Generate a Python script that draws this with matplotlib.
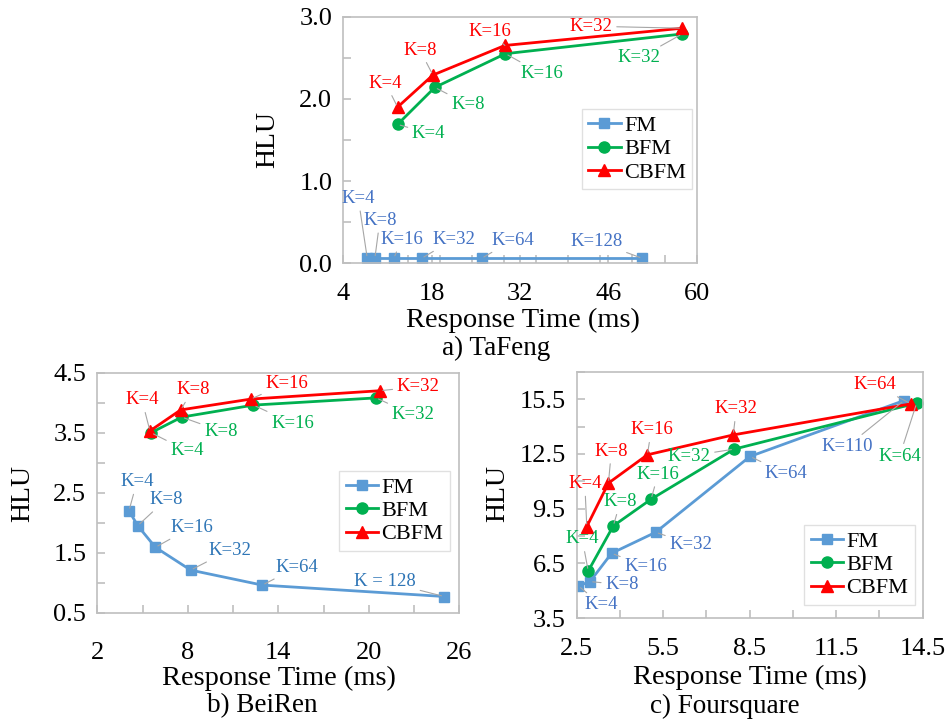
import numpy as np
import matplotlib
matplotlib.use("Agg")
import matplotlib.pyplot as plt

plt.rcParams['font.family'] = ['Liberation Serif', 'DejaVu Serif']

# a) TaFeng
tf_fm_x = [7.8, 9.0, 12.0, 16.4, 25.9, 51.4]
tf_fm_y = [0.06, 0.06, 0.06, 0.06, 0.06, 0.06]
tf_fm_k = ['K=4', 'K=8', 'K=16', 'K=32', 'K=64', 'K=128']
tf_bfm_x = [12.6, 18.5, 29.7, 57.7]
tf_bfm_y = [1.69, 2.14, 2.55, 2.79]
tf_cbfm_x = [12.6, 18.2, 29.6, 57.7]
tf_cbfm_y = [1.90, 2.29, 2.65, 2.86]
tf_bk = ['K=4', 'K=8', 'K=16', 'K=32']

# b) BeiRen
br_fm_x = [4.1, 4.68, 5.85, 8.19, 12.94, 25.0]
br_fm_y = [2.20, 1.95, 1.59, 1.21, 0.96, 0.77]
br_fm_k = ['K=4', 'K=8', 'K=16', 'K=32', 'K=64', 'K = 128']
br_bfm_x = [5.56, 7.60, 12.35, 20.48]
br_bfm_y = [3.50, 3.76, 3.96, 4.08]
br_cbfm_x = [5.49, 7.53, 12.17, 20.75]
br_cbfm_y = [3.53, 3.88, 4.06, 4.20]
br_bk = ['K=4', 'K=8', 'K=16', 'K=32']

# c) Foursquare
fs_fm_x = [2.56, 2.96, 3.71, 5.24, 8.51, 13.85]
fs_fm_y = [5.27, 5.51, 7.06, 8.21, 12.36, 15.42]
fs_fm_k = ['K=4', 'K=8', 'K=16', 'K=32', 'K=64', 'K=110']
fs_bfm_x = [2.90, 3.77, 5.08, 7.96, 14.29]
fs_bfm_y = [6.09, 8.56, 10.02, 12.76, 15.28]
fs_cbfm_x = [2.85, 3.60, 4.95, 7.93, 14.09]
fs_cbfm_y = [8.52, 10.90, 12.45, 13.54, 15.24]
fs_bk = ['K=4', 'K=8', 'K=16', 'K=32', 'K=64']

BLUE = '#5B9BD5'
GREEN = '#00B050'
RED = '#FF0000'
GRID = '#BFBFBF'

W, H = 951, 725
fig = plt.figure(figsize=(W / 100, H / 100), dpi=100)


def add_axes(l, r, t, b):
    return fig.add_axes([l / W, 1 - b / H, (r - l) / W, (b - t) / H])


def style(ax, xlim, xt, xminor, ylim, yt, yminor, xpad):
    ax.set_xlim(*xlim)
    ax.set_ylim(*ylim)
    ax.set_xticks(xt)
    ax.set_xticks(xminor, minor=True)
    ax.set_yticks(yt)
    ax.set_yticks(yminor, minor=True)
    ax.set_yticklabels(['%.1f' % v for v in yt])
    for s in ax.spines.values():
        s.set_color(GRID)
        s.set_linewidth(1.2)
    ax.tick_params(which='both', direction='in', color=GRID, length=6, width=1.2,
                   labelsize=19, pad=8)
    ax.tick_params(axis='x', pad=xpad)


def label(ax, xs, ys, ks, offs, color):
    for x, y, k, (dx, dy) in zip(xs, ys, ks, offs):
        ax.annotate(k, (x, y), xytext=(dx, dy), textcoords='offset pixels',
                    ha='center', va='center', fontsize=13.5, color=color,
                    arrowprops=dict(arrowstyle='-', color='#A6A6A6', lw=0.8,
                                    shrinkA=1, shrinkB=2))


def series(ax, fm, bfm, cbfm):
    ax.plot(*fm, color=BLUE, marker='s', ms=7.5, lw=2, label='FM')
    ax.plot(*bfm, color=GREEN, marker='o', ms=8, lw=2, label='BFM')
    ax.plot(*cbfm, color=RED, marker='^', ms=8.5, lw=2, label='CBFM')


def legend(ax, anchor):
    lg = ax.legend(loc='lower right', bbox_to_anchor=anchor, fontsize=16,
                   frameon=True, fancybox=False, borderaxespad=0,
                   handlelength=1.45, handletextpad=0.15, labelspacing=0.12,
                   borderpad=0.3)
    lg.get_frame().set_edgecolor('#D9D9D9')
    lg.get_frame().set_linewidth(1.0)


# top chart
ax1 = add_axes(343.3, 696.7, 16.7, 263.3)
series(ax1, (tf_fm_x, tf_fm_y), (tf_bfm_x, tf_bfm_y), (tf_cbfm_x, tf_cbfm_y))
style(ax1, (4, 60), [4, 18, 32, 46, 60], np.linspace(4, 60, 12),
      (0, 3), [0, 1, 2, 3], np.arange(0, 3.01, 0.5), 14)
label(ax1, tf_fm_x, tf_fm_y, tf_fm_k,
      [(-9, 60), (5, 38), (8, 19), (32, 19), (31, 18), (-46, 17)], '#4472C4')
label(ax1, tf_bfm_x, tf_bfm_y, tf_bk,
      [(31, -9), (33, -17), (36, -20), (-43, -24)], GREEN)
label(ax1, tf_cbfm_x, tf_cbfm_y, tf_bk,
      [(-12, 24), (-13, 25), (-15, 14), (-91, 2)], RED)
legend(ax1, (0.988, 0.30))

# bottom left
ax2 = add_axes(97.3, 459.3, 372.7, 612.7)
series(ax2, (br_fm_x, br_fm_y), (br_bfm_x, br_bfm_y), (br_cbfm_x, br_cbfm_y))
style(ax2, (2, 26), [2, 8, 14, 20, 26], np.arange(2, 26.01, 3),
      (0.5, 4.5), [0.5, 1.5, 2.5, 3.5, 4.5], np.arange(0.5, 4.51, 0.5), 21)
label(ax2, br_fm_x, br_fm_y, br_fm_k,
      [(8, 29), (28, 26), (36, 20), (39, 20), (35, 18), (-59, 15)], '#2E75B6')
label(ax2, br_bfm_x, br_bfm_y, br_bk,
      [(36, -18), (39, -14), (39, -18), (37, -17)], GREEN)
label(ax2, br_cbfm_x, br_cbfm_y, br_bk,
      [(-8, 31), (12, 20), (36, 16), (38, 4)], RED)
legend(ax2, (0.974, 0.257))

# bottom right
ax3 = add_axes(576.7, 922.7, 371.7, 618.3)
series(ax3, (fs_fm_x, fs_fm_y), (fs_bfm_x, fs_bfm_y), (fs_cbfm_x, fs_cbfm_y))
style(ax3, (2.5, 14.5), [2.5, 5.5, 8.5, 11.5, 14.5], np.arange(2.5, 14.51, 1.5),
      (3.5, 17), [3.5, 6.5, 9.5, 12.5, 15.5], np.arange(3.5, 17.01, 1.5), 14)
label(ax3, fs_fm_x, fs_fm_y, fs_fm_k,
      [(23, -19), (32, -3), (34, -13), (35, -12), (36, -17), (-57, -46)], '#4472C4')
label(ax3, fs_bfm_x, fs_bfm_y, fs_bk,
      [(-6, 32), (7, 24), (7, 25), (-45, -7), (-17, -53)], GREEN)
label(ax3, fs_cbfm_x, fs_cbfm_y, fs_bk,
      [(-2, 43), (3, 32), (4, 25), (3, 26), (-36, 19)], RED)
legend(ax3, (0.978, 0.054))


def ftext(x, y, s, **kw):
    fig.text(x / W, 1 - y / H, s, ha='center', va='center', **kw)


ftext(523, 320, 'Response Time (ms)', fontsize=20.5)
ftext(496, 348, 'a) TaFeng', fontsize=19.5)
ftext(268, 140, 'HLU', fontsize=20, rotation=90)

ftext(279, 678, 'Response Time (ms)', fontsize=20.5)
ftext(262, 706, 'b) BeiRen', fontsize=19.5)
ftext(23, 493, 'HLU', fontsize=20, rotation=90)

ftext(750, 677, 'Response Time (ms)', fontsize=20.5)
ftext(725, 706, 'c) Foursquare', fontsize=19.5)
ftext(498, 493, 'HLU', fontsize=20, rotation=90)

fig.savefig('out.png', dpi=100)
